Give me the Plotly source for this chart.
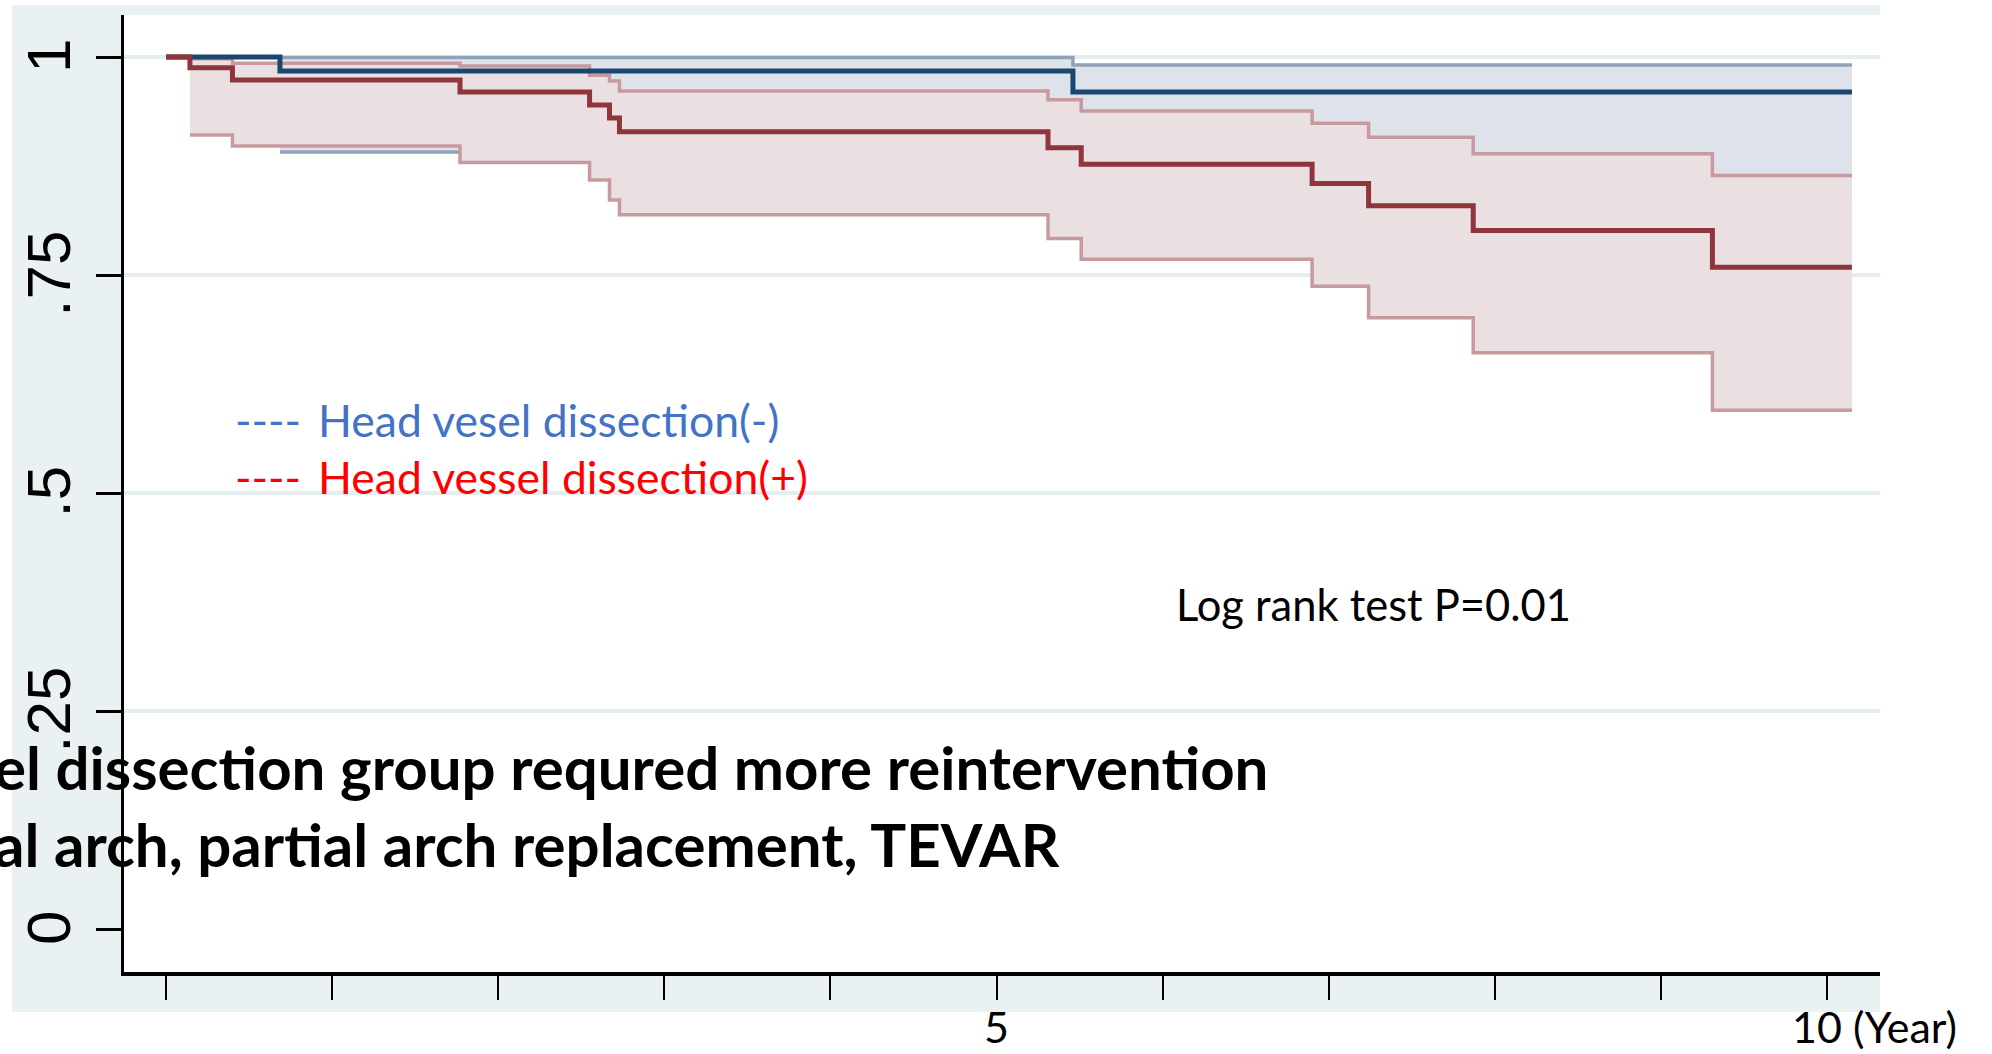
import plotly.graph_objects as go

# ---------------- data ----------------
# Head vessel dissection(-)  (blue)
t_blue = [0, 0.686, 5.46, 10.15]
s_blue = [1.0, 0.984, 0.960, 0.960]
t_blue_ci = [0.686, 5.46, 10.15]
blue_upper = [0.9995, 0.991, 0.991]
blue_lower = [0.891, 0.847, 0.847]

# Head vessel dissection(+)  (red)
t_red = [0, 0.144, 0.40, 1.77, 2.55, 2.67, 2.73, 5.31, 5.51, 6.90, 7.24, 7.87, 9.31, 10.15]
s_red = [1.0, 0.9876, 0.9736, 0.960, 0.945, 0.930, 0.9143, 0.896, 0.877, 0.855, 0.8295, 0.801, 0.759, 0.759]
t_red_ci = [0.144, 0.40, 1.77, 2.55, 2.67, 2.73, 5.31, 5.51, 6.90, 7.24, 7.87, 9.31, 10.15]
red_upper = [0.998, 0.993, 0.9897, 0.979, 0.9725, 0.961, 0.951, 0.938, 0.924, 0.908, 0.889, 0.864, 0.864]
red_lower = [0.9106, 0.898, 0.879, 0.859, 0.836, 0.819, 0.792, 0.768, 0.737, 0.701, 0.661, 0.595, 0.595]

y_tickvals = [0, 0.25, 0.5, 0.75, 1]
y_ticktext = ["0", ".25", ".5", ".75", "1"]
grid_vals = [0.25, 0.5, 0.75, 1]
x_tickvals = [0, 1, 2, 3, 4, 5, 6, 7, 8, 9, 10]

legend_labels = ["Head vesel dissection(-)", "Head vessel dissection(+)"]
note_text = "Log rank test P=0.01"
overlay_lines = ["el dissection group requred more reintervention",
                 "al arch, partial arch replacement, TEVAR"]

# ---------------- styling ----------------
W, H = 1992, 1054
L, R, T, B = 124, 1880, 15, 972

def px_x(px):
    return (px - L) / (R - L)

def px_y(py):
    return (B - py) / (B - T)

NAVY = "#1A476F"
MAROON = "#90353B"
BLUE_CI = "#8FA2B8"
RED_CI = "#C89A9E"
BLUE_FILL = "#DEE2EA"
RED_FILL = "#EADFE1"
PANEL = "#EAF1F3"
GRID = "#E4EDEF"

fig = go.Figure()
fig.add_trace(go.Scatter(x=t_blue_ci, y=blue_lower, mode="lines", line=dict(shape="hv", color=BLUE_CI, width=3.5),
                         showlegend=False, hoverinfo="skip"))
fig.add_trace(go.Scatter(x=t_blue_ci, y=blue_upper, mode="lines", line=dict(shape="hv", color=BLUE_CI, width=3.5),
                         fill="tonexty", fillcolor=BLUE_FILL, showlegend=False, hoverinfo="skip"))
fig.add_trace(go.Scatter(x=t_red_ci, y=red_lower, mode="lines", line=dict(shape="hv", color=RED_CI, width=3.5),
                         showlegend=False, hoverinfo="skip"))
fig.add_trace(go.Scatter(x=t_red_ci, y=red_upper, mode="lines", line=dict(shape="hv", color=RED_CI, width=3.5),
                         fill="tonexty", fillcolor=RED_FILL, showlegend=False, hoverinfo="skip"))
fig.add_trace(go.Scatter(x=t_blue, y=s_blue, mode="lines", line=dict(shape="hv", color=NAVY, width=5),
                         name=legend_labels[0], showlegend=False))
fig.add_trace(go.Scatter(x=t_red, y=s_red, mode="lines", line=dict(shape="hv", color=MAROON, width=5),
                         name=legend_labels[1], showlegend=False))

shapes = [
    dict(type="rect", xref="paper", yref="paper", x0=px_x(12), x1=1, y0=px_y(1012), y1=px_y(5),
         fillcolor=PANEL, line=dict(width=0), layer="below"),
    dict(type="rect", xref="paper", yref="paper", x0=0, x1=1, y0=0, y1=1,
         fillcolor="white", line=dict(width=0), layer="below"),
]
for g in grid_vals:
    shapes.append(dict(type="line", xref="paper", yref="y", x0=0, x1=1, y0=g, y1=g,
                       line=dict(color=GRID, width=4), layer="below"))

annotations = []
leg_font = dict(family="Lato", size=44.5)
leg_colors = ["#4472C4", "#FF0000"]
leg_y = [419, 477]
for lab, col, yy in zip(legend_labels, leg_colors, leg_y):
    annotations.append(dict(xref="paper", yref="paper", x=px_x(233), y=px_y(yy), xanchor="left", yanchor="middle",
                            text="----", showarrow=False, font=dict(leg_font, color=col)))
    annotations.append(dict(xref="paper", yref="paper", x=px_x(316), y=px_y(yy), xanchor="left", yanchor="middle",
                            text=lab, showarrow=False, font=dict(leg_font, color=col)))

annotations.append(dict(xref="paper", yref="paper", x=px_x(1174), y=px_y(604), xanchor="left", yanchor="middle",
                        text=note_text, showarrow=False, font=dict(family="Lato", size=43.5, color="black")))

for txt, yy in zip(overlay_lines, [767, 844]):
    annotations.append(dict(xref="paper", yref="paper", x=px_x(-8), y=px_y(yy), xanchor="left", yanchor="middle",
                            text="<b>" + txt + "</b>", showarrow=False,
                            font=dict(family="Lato", size=60, color="black")))

annotations.append(dict(xref="x", yref="paper", x=5, y=px_y(1026), xanchor="center", yanchor="middle",
                        text="5", showarrow=False, font=dict(family="Lato", size=43, color="black")))
annotations.append(dict(xref="paper", yref="paper", x=px_x(1790), y=px_y(1026), xanchor="left", yanchor="middle",
                        text="10 (Year)", showarrow=False, font=dict(family="Lato", size=43, color="black")))

fig.update_layout(
    width=W, height=H,
    margin=dict(l=L, r=W - R, t=T, b=H - B, pad=0),
    paper_bgcolor="white", plot_bgcolor="white",
    shapes=shapes, annotations=annotations,
    xaxis=dict(range=[-0.2529, 10.319], showgrid=False, zeroline=False, showline=True, linecolor="black",
               linewidth=4, ticks="outside", ticklen=24, tickwidth=2, tickcolor="black",
               tickvals=x_tickvals, showticklabels=False, fixedrange=True, automargin=False),
    yaxis=dict(range=[-0.0493, 1.0482], showgrid=False, zeroline=False, showline=True, linecolor="black",
               linewidth=2.5, ticks="outside", ticklen=25, tickwidth=3, tickcolor="black",
               tickvals=y_tickvals, ticktext=y_ticktext, tickangle=-90,
               tickfont=dict(family="Liberation Sans", size=62, color="black"),
               ticklabelstandoff=1, ticklabelshift=8, fixedrange=True, automargin=False),
)

fig.write_html("out.html", config={"displayModeBar": False},
               post_script="document.body.style.margin='0';document.body.style.overflow='hidden';")
